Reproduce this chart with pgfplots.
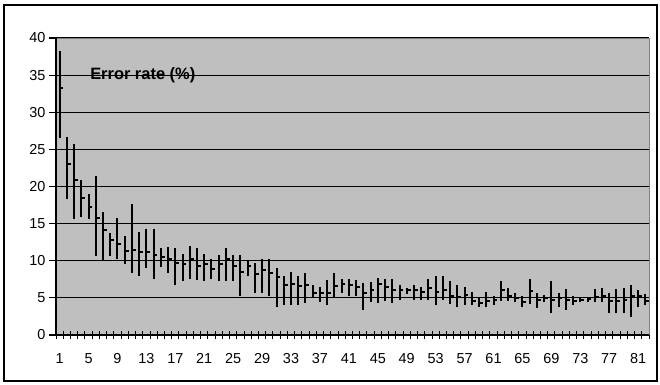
\documentclass[border=0pt]{standalone}
\usepackage{pgfplots}
\usepackage{pgfplotstable}
\pgfplotsset{compat=1.18}
\usepackage{fontspec}
\setmainfont{Liberation Sans}
\pgfdeclareplotmark{closetick}{\pgfpathmoveto{\pgfpoint{0.8bp}{0pt}}\pgfpathlineto{\pgfpoint{3.8bp}{0pt}}\pgfusepathqstroke}
\pgfplotstableread{
x c h l
1 33.2 38.2 26.5
2 23.0 26.6 18.3
3 20.9 25.7 15.6
4 18.5 20.9 15.9
5 17.3 19.0 15.6
6 15.8 21.4 10.7
7 14.2 16.5 10.0
8 12.8 13.8 10.7
9 12.3 15.7 10.3
10 11.3 13.3 9.6
11 11.5 17.6 8.4
12 11.2 13.9 7.9
13 11.2 14.3 9.0
14 10.8 14.3 7.6
15 10.5 11.7 9.2
16 10.3 11.9 8.4
17 9.7 11.7 6.7
18 9.6 10.9 7.3
19 10.2 12.0 7.6
20 9.3 11.7 7.4
21 9.6 10.9 7.3
22 8.9 10.3 7.5
23 9.6 10.8 7.3
24 10.3 11.7 7.3
25 9.3 10.8 7.3
26 8.5 10.8 5.2
27 9.3 10.0 7.9
28 8.2 9.7 5.7
29 8.8 10.2 5.7
30 8.4 10.2 5.2
31 7.8 9.0 3.8
32 6.7 7.9 4.1
33 6.9 8.5 4.1
34 6.6 7.9 4.1
35 6.8 8.4 4.3
36 5.7 6.8 5.0
37 5.6 6.5 4.4
38 5.6 7.4 4.1
39 6.6 8.4 5.0
40 6.9 7.5 5.7
41 6.7 7.6 5.2
42 6.4 7.4 5.2
43 5.6 7.0 3.3
44 6.1 7.2 4.4
45 6.9 7.7 4.3
46 6.5 7.5 4.6
47 6.0 7.5 4.3
48 6.0 6.8 4.7
49 6.0 6.3 5.5
50 6.0 6.8 4.7
51 5.8 6.5 4.7
52 6.3 7.5 4.7
53 5.8 7.9 4.0
54 6.1 7.9 4.7
55 5.2 7.3 4.2
56 5.1 6.8 3.8
57 5.4 6.5 4.1
58 4.6 5.8 4.0
59 4.3 5.1 3.8
60 4.6 5.8 3.8
61 4.7 5.2 4.1
62 6.1 7.3 4.6
63 5.3 6.3 4.6
64 5.0 5.6 4.4
65 4.4 5.2 3.8
66 5.9 7.5 4.2
67 4.7 5.6 3.7
68 5.0 5.4 4.4
69 4.7 7.3 2.9
70 5.0 5.6 3.8
71 4.7 6.2 3.3
72 4.6 5.2 4.1
73 4.7 5.1 4.4
74 4.8 5.0 4.4
75 5.1 6.2 4.4
76 5.3 6.3 4.4
77 4.6 5.6 2.9
78 4.6 6.2 2.9
79 4.7 6.3 2.9
80 5.3 6.8 2.4
81 5.2 6.1 3.8
82 4.6 5.5 4.0
}\errtable
\begin{document}
\begin{tikzpicture}
\useasboundingbox (-56bp,-50bp) rectangle (604bp,335bp);
\begin{axis}[
  at={(0,0)}, anchor=south west,
  scale only axis, width=593bp, height=297bp,
  xmin=0.5, xmax=82.5, ymin=0, ymax=40,
  axis background/.style={fill=black!25},
  axis line style={draw=none},
  tick pos=left,
  ytick={0,5,...,40},
  ymajorgrids, grid style={black, line width=1.1bp},
  xtick={0.5,1.5,...,82.5},
  xticklabels={},
  extra x ticks={1,5,...,81},
  extra x tick labels={1,5,9,13,17,21,25,29,33,37,41,45,49,53,57,61,65,69,73,77,81},
  extra x tick style={major tick length=0bp, tick style={draw=none}, xticklabel style={yshift=-15bp}},
  tick align=center,
  major tick length=14bp,
  xtick style={black, line width=1bp, /pgfplots/major tick length=9bp},
  ytick style={black, line width=1.2bp},
  ticklabel style={font=\fontsize{14.5}{16}\selectfont},
  /pgf/number format/assume math mode=true,
  clip=false,
]
\addplot[draw=none, mark=none, error bars/.cd, y dir=plus, y explicit, error mark=none,
  error bar style={black, line width=2bp}]
  table[x=x, y=l, y error plus expr=\thisrow{h}-\thisrow{l}] {\errtable};
\addplot[only marks, mark=closetick, mark options={black, line width=2bp}]
  table[x=x, y=c] {\errtable};
\draw[black!50, line width=1bp] (rel axis cs:0,1) -- (rel axis cs:1,1) -- (rel axis cs:1,0);
\draw[black, line width=1.3bp] (rel axis cs:0,1) -- (rel axis cs:0,0) -- (rel axis cs:1,0);
\node[font=\bfseries\fontsize{16.5}{18}\selectfont, inner sep=0pt] at (axis cs:12.5,35) {Error rate (\%)};
\end{axis}
\draw[black, line width=2bp] (-52bp,-46bp) rectangle (601bp,330bp);
\end{tikzpicture}
\end{document}
